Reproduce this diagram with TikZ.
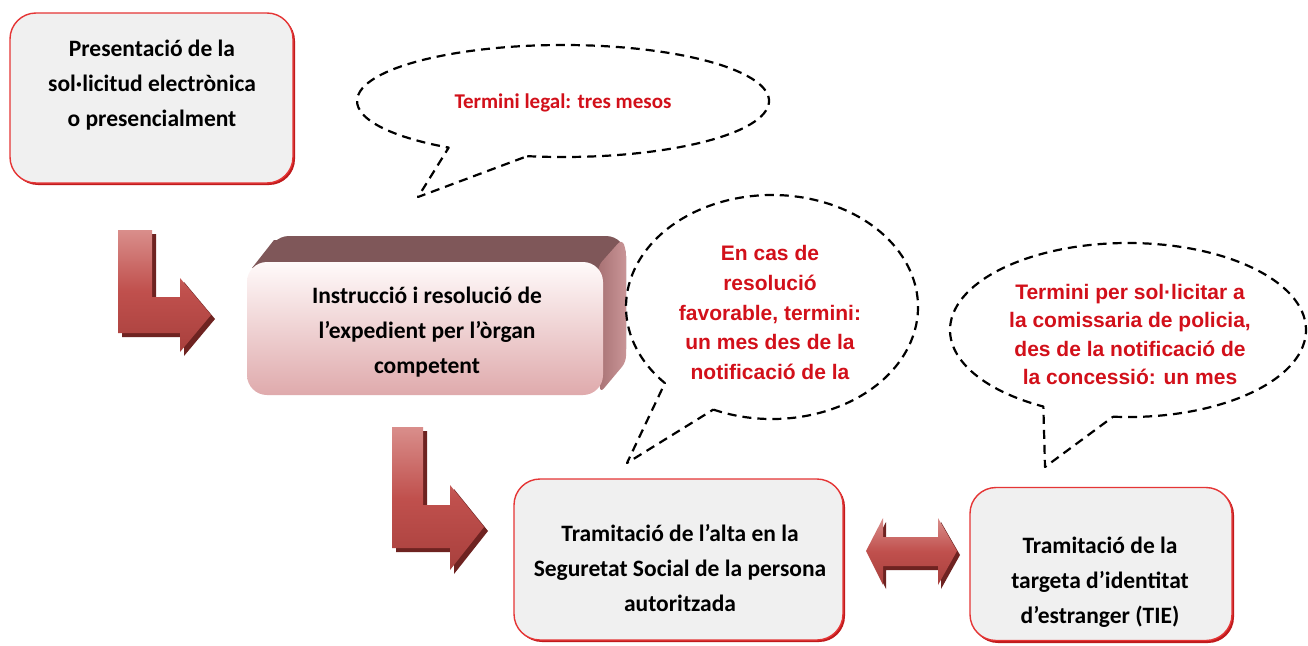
\documentclass[tikz,border=0pt]{standalone}
\usepackage{fontspec}
\setmainfont{Carlito}
\newfontfamily\arialf{Liberation Sans}
\usetikzlibrary{calc}
\definecolor{boxfill}{HTML}{F0F0F0}
\definecolor{boxline}{HTML}{E53535}
\definecolor{boxshadowc}{HTML}{C01A1C}
\definecolor{redtxt}{HTML}{D2101A}
\definecolor{arrowmid}{HTML}{C0504D}
\definecolor{arrowtop}{HTML}{D98E8B}
\definecolor{arrowbot}{HTML}{A8403D}
\definecolor{arrowshadow}{HTML}{6E2321}
\definecolor{topface}{HTML}{7F5759}
\definecolor{sidea}{HTML}{A87274}
\definecolor{sideb}{HTML}{C99597}
\definecolor{fronttop}{HTML}{FFFAFA}
\definecolor{frontbot}{HTML}{DFAAAC}
\tikzset{
  box/.style={draw=boxline, line width=1.4pt, fill=boxfill, rounded corners=26pt, inner sep=0pt},
  boxsh/.style={fill=boxshadowc, rounded corners=26pt},
  blacktext/.style={align=center, text=black, font=\fontsize{23.5}{35}\selectfont\bfseries},
  redA/.style={align=center, text=redtxt, font=\fontsize{21}{25}\selectfont\bfseries},
  redB/.style={align=center, text=redtxt, font=\arialf\fontsize{21}{29.6}\selectfont\bfseries},
  redC/.style={align=center, text=redtxt, font=\arialf\fontsize{21}{28.3}\selectfont\bfseries},
  callout/.style={draw=black, line width=2.2pt, dash pattern=on 9pt off 6pt, line join=round},
  arrowbody/.style={top color=arrowtop, bottom color=arrowbot, middle color=arrowmid},
  arrowsh/.style={fill=arrowshadow},
  frontface/.style={top color=fronttop, bottom color=frontbot, rounded corners=20pt, inner sep=0pt},
}
\begin{document}
\begin{tikzpicture}[x=1pt,y=-1pt]
\fill[white] (0,0) rectangle (1308,645);
\useasboundingbox (0,0) rectangle (1308,645);

% ---- box 1
\fill[boxsh] (12,15) rectangle (295,185);
\node[box, minimum width=283pt, minimum height=170pt] (b1) at (151.5,98) {};
\node[blacktext] (t1) at (152,85) {Presentació de la\\sol·licitud electrònica\\o presencialment};

% ---- box 3
\fill[boxsh] (516,481) rectangle (845,642);
\node[box, minimum width=329pt, minimum height=161pt] (b3) at (678.5,559.5) {};
\node[blacktext] (t3) at (680,568) {Tramitació de l’alta en la\\Seguretat Social de la persona\\autoritzada};

% ---- box 4
\fill[boxsh] (972,489) rectangle (1234,643);
\node[box, minimum width=262pt, minimum height=153pt] (b4) at (1101,564) {};
\node[blacktext] (t4) at (1100,582) {Tramitació de la\\targeta d’identitat\\d’estranger (TIE)};

% ---- 3D box 2
\fill[topface, rounded corners=20pt] (269,236) rectangle (626,369);
\fill[topface] (252,268) -- (274,240) -- (610,240) -- (588,268) -- cycle;
\shade[left color=sidea, right color=sideb, rounded corners=6pt] (598,266) -- (622,239) -- (626,250) -- (626,362) -- (600,393) -- cycle;
\node[frontface, minimum width=356pt, minimum height=133pt] (b2) at (425,328.5) {};
\node[blacktext] (t2) at (427,332) {Instrucció i resolució de\\l’expedient per l’òrgan\\competent};

% ---- bent arrow 1
\fill[arrowsh] (122,234) -- (156,234) -- (156,301) -- (184,301) -- (184,282) -- (215,319) -- (184,356) -- (184,337) -- (122,337) -- cycle;
\shade[arrowbody] (118,230) -- (152,230) -- (152,297) -- (180,297) -- (180,278) -- (211,315) -- (180,352) -- (180,333) -- (118,333) -- cycle;

% ---- bent arrow 2
\fill[arrowsh] (396,431) -- (427,431) -- (427,509) -- (454,509) -- (454,489) -- (488,531) -- (454,574) -- (454,552) -- (396,552) -- cycle;
\shade[arrowbody] (392,427) -- (423,427) -- (423,505) -- (450,505) -- (450,485) -- (484,527) -- (450,570) -- (450,548) -- (392,548) -- cycle;

% ---- double arrow
\fill[arrowsh] (869,555) -- (886,522) -- (886,541) -- (941,541) -- (941,522) -- (960,555) -- (941,589) -- (941,570) -- (886,570) -- (886,589) -- cycle;
\shade[arrowbody] (866,551) -- (883,518) -- (883,537) -- (938,537) -- (938,518) -- (957,551) -- (938,585) -- (938,566) -- (883,566) -- (883,585) -- cycle;

% ---- callout 1
\coordinate (c1) at (563,101);
\coordinate (tip1) at (418,197);
\draw[callout] ($(c1)+({206*cos(100)},{56*sin(100)})$) arc[start angle=100, end angle=-236.3, x radius=206, y radius=56] -- (tip1) -- cycle;
\node[redA] (n1) at (563,103) {Termini legal: tres mesos};

% ---- callout 2
\coordinate (c2) at (772,307);
\coordinate (tip2) at (627,463);
\draw[callout] ($(c2)+({146*cos(113.7)},{112*sin(113.7)})$) arc[start angle=113.7, end angle=-222.8, x radius=146, y radius=112] -- (tip2) -- cycle;
\node[redB] (n2) at (770,312.6) {En cas de\\resolució\\favorable, termini:\\un mes des de la\\notificació de la};

% ---- callout 3
\coordinate (c3) at (1128,330);
\coordinate (tip3) at (1045,467);
\draw[callout] ($(c3)+({178*cos(94.8)},{87*sin(94.8)})$) arc[start angle=94.8, end angle=-241.6, x radius=178, y radius=87] -- (tip3) -- cycle;
\node[redC] (n3) at (1130,334.5) {Termini per sol·licitar a\\la comissaria de policia,\\des de la notificació de\\la concessió: un mes};
\end{tikzpicture}
\end{document}
